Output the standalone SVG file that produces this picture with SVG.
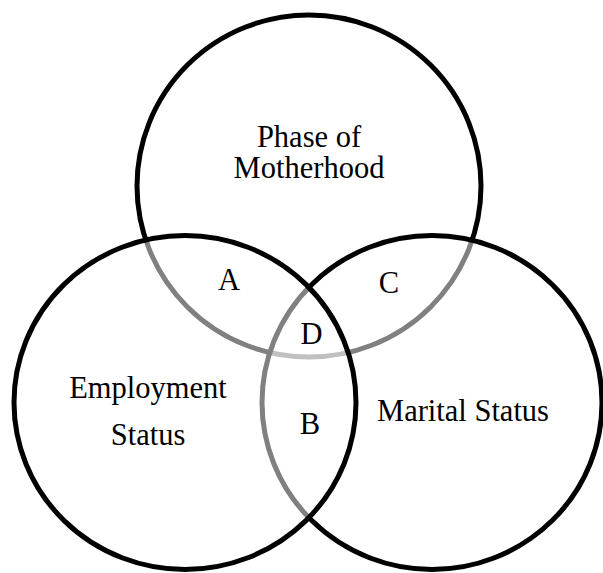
<svg xmlns="http://www.w3.org/2000/svg" width="603" height="573" viewBox="0 0 603 573">
<style>
.c{fill:#ffffff;fill-opacity:0.5;stroke:#000;stroke-width:5}
text{font-family:"Liberation Serif","Times New Roman",serif;font-size:30.5px;fill:#000;text-anchor:middle}
</style>
<rect width="603" height="573" fill="#fff"/>
<g id="phase">
<ellipse class="c" cx="309" cy="186" rx="172" ry="171"/>
<text x="309" y="147">Phase of</text>
<text x="309" y="178">Motherhood</text>
</g>
<g id="marital">
<ellipse class="c" cx="432" cy="402.5" rx="170" ry="167"/>
<text x="463" y="421">Marital Status</text>
</g>
<g id="employment">
<ellipse class="c" cx="185" cy="402.5" rx="171" ry="167"/>
<text x="148" y="398">Employment</text>
<text x="148" y="445">Status</text>
</g>
<g id="regions">
<text x="229" y="290">A</text>
<text x="310" y="434">B</text>
<text x="389" y="293">C</text>
<text x="311.5" y="344">D</text>
</g>
<g id="connectors"/>
</svg>
